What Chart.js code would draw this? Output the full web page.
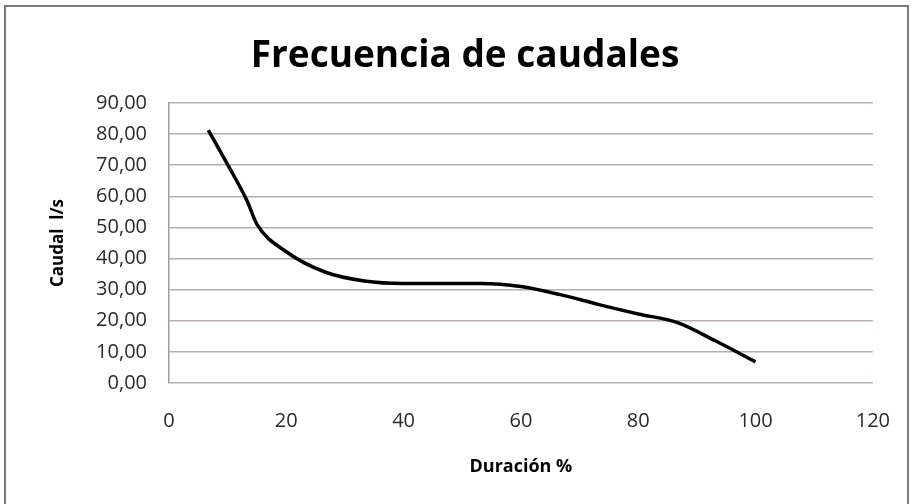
<!DOCTYPE html>
<html>
<head>
<meta charset="utf-8">
<script src="https://cdn.jsdelivr.net/npm/chart.js@4"></script>
<style>
  html, body { margin: 0; padding: 0; background: #fff; }
  #wrap { position: relative; width: 916px; height: 504px; }
  #frame { position: absolute; left: 4px; top: 5px; width: 905px; height: 520px; border: 2px solid #7a7a7a; box-sizing: border-box; }
  canvas { position: absolute; left: 0; top: 0; }
</style>
</head>
<body>
<div id="wrap">
  <div id="frame"></div>
  <canvas id="caudalesChart" width="916" height="504"></canvas>
</div>
<script>
  // curva de duración de caudales
  const duracion = [6.7, 10, 13.3, 15, 20, 26.7, 33.3, 40, 46.7, 53.3, 60, 66.7, 73.3, 80, 86.7, 93.3, 100];
  const caudal = [81.3, 70.2, 58.6, 51, 42.2, 35.6, 32.8, 32, 32, 32, 31, 28.4, 25.2, 22.2, 19.4, 13.4, 6.8];
  const ticksX = [0, 20, 40, 60, 80, 100, 120];
  const ticksY = [0, 10, 20, 30, 40, 50, 60, 70, 80, 90];

  const gridColor = '#b6aeab';

  // titulo dibujado a mano para fijar su posición
  const tituloPlugin = {
    id: 'titulo',
    afterDraw(chart) {
      const c = chart.ctx;
      c.save();
      c.fillStyle = '#000';
      c.font = 'bold 37px "Open Sans"';
      c.textAlign = 'center';
      c.textBaseline = 'middle';
      c.fillText('Frecuencia de caudales', 465, 56);
      c.restore();
    }
  };

  const ctx = document.getElementById('caudalesChart').getContext('2d');
  new Chart(ctx, {
    type: 'line',
    data: {
      datasets: [{
        label: 'Caudal',
        data: duracion.map((d, i) => ({ x: d, y: caudal[i] })),
        borderColor: '#000',
        borderWidth: 3.5,
        pointRadius: 0,
        cubicInterpolationMode: 'monotone',
        fill: false
      }]
    },
    options: {
      responsive: false,
      animation: false,
      layout: { padding: { top: 103, right: 40, left: 48, bottom: 26 } },
      plugins: {
        legend: { display: false },
        title: { display: false },
        tooltip: { enabled: false }
      },
      scales: {
        x: {
          type: 'linear',
          min: 0,
          max: 120,
          afterBuildTicks: scale => { scale.ticks = ticksX.map(v => ({ value: v })); },
          grid: { display: false, drawTicks: false },
          border: { display: false },
          ticks: {
            color: '#2a2a2a',
            font: { family: 'Open Sans', size: 20 },
            padding: 26
          },
          title: {
            display: true,
            text: 'Duración %',
            color: '#000',
            font: { family: 'Open Sans', size: 18, weight: 'bold' },
            padding: 0
          },
          afterFit: scale => { scale.height = 95; }
        },
        y: {
          min: 0,
          max: 90,
          afterBuildTicks: scale => { scale.ticks = ticksY.map(v => ({ value: v })); },
          grid: { color: gridColor, lineWidth: 1.5, drawTicks: false },
          border: { display: true, color: '#a09a98', width: 1.5 },
          ticks: {
            color: '#2a2a2a',
            font: { family: 'Open Sans', size: 20 },
            padding: 22,
            callback: v => v.toFixed(2).replace('.', ',')
          },
          title: {
            display: true,
            text: 'Caudal  l/s',
            color: '#000',
            font: { family: 'Open Sans', size: 17, weight: 'bold' },
            padding: 0
          },
          afterFit: scale => { scale.width = 121; }
        }
      }
    },
    plugins: [tituloPlugin]
  });
</script>
</body>
</html>
